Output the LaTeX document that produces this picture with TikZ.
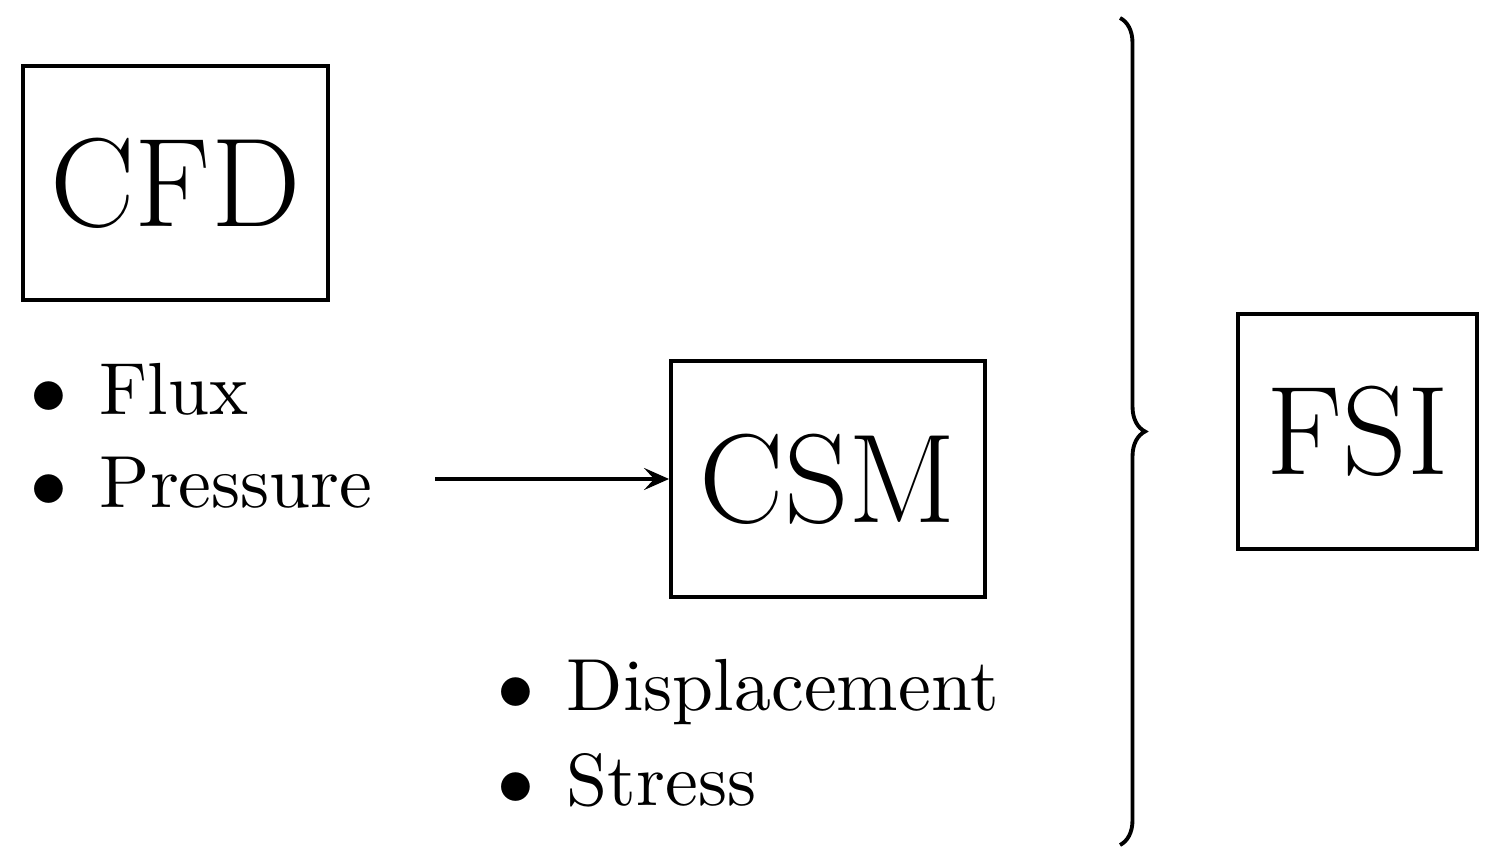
\documentclass[tikz,border=0pt]{standalone}
\usetikzlibrary{decorations.pathreplacing,arrows.meta}
\begin{document}
\begin{tikzpicture}[
  box/.style={draw,line width=1.1pt,inner sep=0pt},
  big/.style={font=\fontsize{36}{40}\selectfont},
  item/.style={anchor=base west,inner sep=0pt,scale=2.1,font=\normalsize}]
\useasboundingbox (0,0) rectangle (14.99,8.66);
\node[box,big,minimum width=3.05cm,minimum height=2.34cm] (cfd) at (1.755,6.83) {CFD};
\node[box,big,minimum width=3.14cm,minimum height=2.36cm] (csm) at (8.28,3.87) {CSM};
\node[box,big,minimum width=2.39cm,minimum height=2.35cm] (fsi) at (13.575,4.345) {FSI};
\node[item] (flux) at (0.29,4.51) {\makebox[0.33cm][l]{$\bullet$}Flux};
\node[item] (pres) at (0.29,3.58) {\makebox[0.33cm][l]{$\bullet$}Pressure};
\node[item] (disp) at (4.96,1.56) {\makebox[0.33cm][l]{$\bullet$}Displacement};
\node[item] (str) at (4.96,0.61) {\makebox[0.33cm][l]{$\bullet$}Stress};
\coordinate (a0) at (4.35,3.87);
\draw[line width=1.1pt,-{Stealth[length=0.25cm,width=0.22cm,inset=0.1cm]}] (a0) -- (csm.west);
\coordinate (bt) at (11.2,8.48);
\coordinate (bb) at (11.2,0.21);
\draw[line width=1.1pt,decorate,decoration={brace,amplitude=0.25cm}] (bt) -- (bb);
\end{tikzpicture}
\end{document}
